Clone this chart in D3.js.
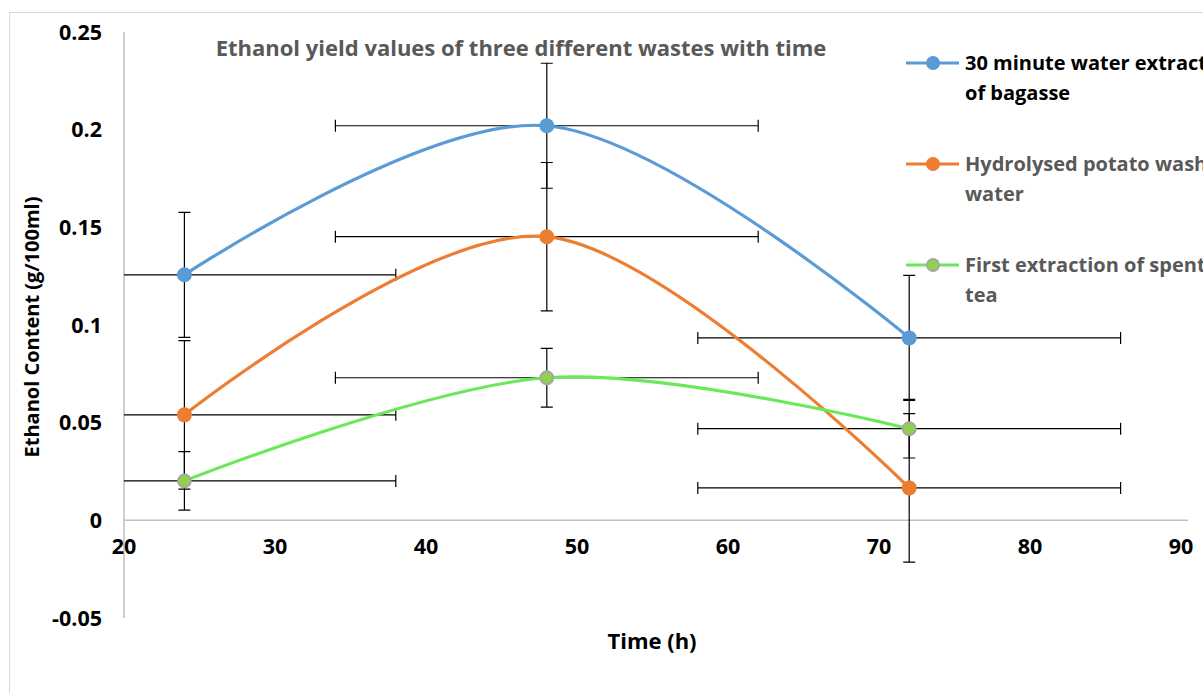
<!DOCTYPE html>
<html>
<head>
<meta charset="utf-8">
<script src="https://cdn.jsdelivr.net/npm/d3@7"></script>
<style>
  body { margin: 0; background: #fff; }
  svg { font-family: "Open Sans", sans-serif; font-weight: bold; }
</style>
</head>
<body>
<svg id="chart" width="1203" height="693"></svg>
<script>
var times = [24, 48, 72];
var bagasse = [0.1257, 0.202, 0.0934];
var potato = [0.054, 0.1452, 0.0166];
var tea = [0.0202, 0.073, 0.0469];
var yErrors = [0.032, 0.038, 0.015];
var xError = 14;
var seriesNames = [["30 minute water extract", "of bagasse"], ["Hydrolysed potato wash", "water"], ["First extraction of spent", "tea"]];
var xTicks = [20, 30, 40, 50, 60, 70, 80, 90];
var yTicks = [-0.05, 0, 0.05, 0.1, 0.15, 0.2, 0.25];

var svg = d3.select("#chart"),
    margin = {top: 32, right: 22, bottom: 75, left: 124},
    width = svg.attr("width") - margin.left - margin.right,
    height = svg.attr("height") - margin.top - margin.bottom;

var x = d3.scaleLinear().domain([20, 90]).range([0, width]),
    y = d3.scaleLinear().domain([-0.05, 0.25]).range([height, 0]);

var colors = ["#5B9BD5", "#ED7D31", "#6BE85A"],
    markerFill = ["#5B9BD5", "#ED7D31", "#92D050"],
    markerStroke = ["#5B9BD5", "#ED7D31", "#A5A5A5"];

var series = [bagasse, potato, tea].map(function(vals, i) {
    return {
        name: seriesNames[i],
        err: yErrors[i],
        values: vals.map(function(v, j) { return {t: times[j], v: v}; })
    };
});

// outer chart border
svg.append("rect")
    .attr("x", 9.5).attr("y", 12.5)
    .attr("width", 1250).attr("height", 750)
    .attr("fill", "none").attr("stroke", "#D9D9D9");

var g = svg.append("g")
    .attr("transform", "translate(" + margin.left + "," + margin.top + ")");

g.append("clipPath").attr("id", "plot-clip")
  .append("rect").attr("x", 0).attr("y", -10).attr("width", width + 10).attr("height", height + 20);

// axes
g.append("line")
    .attr("x1", 0).attr("x2", 0).attr("y1", 0).attr("y2", height)
    .attr("stroke", "#BFBFBF").attr("stroke-width", 1.5);
g.append("line")
    .attr("x1", 0).attr("x2", width + 7).attr("y1", y(0)).attr("y2", y(0))
    .attr("stroke", "#BFBFBF").attr("stroke-width", 1.5);

g.selectAll(".ytick")
    .data(yTicks)
  .enter().append("text")
    .attr("class", "ytick")
    .attr("x", -22)
    .attr("y", function(d) { return y(d); })
    .attr("dy", "0.35em")
    .attr("text-anchor", "end")
    .style("font-size", "21.5px")
    .text(function(d) { return String(+d.toFixed(2)); });

g.selectAll(".xtick")
    .data(xTicks)
  .enter().append("text")
    .attr("class", "xtick")
    .attr("x", function(d) { return x(d); })
    .attr("y", y(0) + 34)
    .attr("text-anchor", "middle")
    .style("font-size", "21.5px")
    .text(function(d) { return d; });

// axis titles
svg.append("text")
    .attr("x", 652).attr("y", 649)
    .attr("text-anchor", "middle")
    .style("font-size", "22px")
    .text("Time (h)");

svg.append("text")
    .attr("transform", "translate(39,327) rotate(-90)")
    .attr("text-anchor", "middle")
    .style("font-size", "20px")
    .text("Ethanol Content (g/100ml)");

svg.append("text")
    .attr("x", 521).attr("y", 56)
    .attr("text-anchor", "middle")
    .attr("fill", "#595959")
    .style("font-size", "22px")
    .text("Ethanol yield values of three different wastes with time");

// error bars
var bars = g.append("g").attr("clip-path", "url(#plot-clip)");
var cap = 6;
series.forEach(function(s) {
    s.values.forEach(function(d) {
        var cx = x(d.t), cy = y(d.v),
            x0 = x(d.t - xError), x1 = x(d.t + xError),
            y0 = y(d.v - s.err), y1 = y(d.v + s.err);
        var path = "M" + x0 + "," + cy + "H" + x1 +
            "M" + x0 + "," + (cy - cap) + "V" + (cy + cap) +
            "M" + x1 + "," + (cy - cap) + "V" + (cy + cap) +
            "M" + cx + "," + y0 + "V" + y1 +
            "M" + (cx - cap) + "," + y0 + "H" + (cx + cap) +
            "M" + (cx - cap) + "," + y1 + "H" + (cx + cap);
        bars.append("path")
            .attr("d", path)
            .attr("fill", "none")
            .attr("stroke", "#000")
            .attr("stroke-width", 1.2);
    });
});

// smoothed lines
var line = d3.line()
    .curve(d3.curveCardinal.tension(0))
    .x(function(d) { return x(d.t); })
    .y(function(d) { return y(d.v); });

series.forEach(function(s, i) {
    g.append("path")
        .datum(s.values)
        .attr("fill", "none")
        .attr("stroke", colors[i])
        .attr("stroke-width", 3.2)
        .attr("d", line);
});

series.forEach(function(s, i) {
    g.selectAll(".dot" + i)
        .data(s.values)
      .enter().append("circle")
        .attr("cx", function(d) { return x(d.t); })
        .attr("cy", function(d) { return y(d.v); })
        .attr("r", i == 2 ? 6.5 : 7.5)
        .attr("fill", markerFill[i])
        .attr("stroke", markerStroke[i])
        .attr("stroke-width", i == 2 ? 1.8 : 0);
});

// legend
var legend = svg.append("g").attr("transform", "translate(906,63)");
series.forEach(function(s, i) {
    var lg = legend.append("g").attr("transform", "translate(0," + (i * 101) + ")");
    lg.append("line")
        .attr("x1", 0).attr("x2", 53)
        .attr("stroke", colors[i]).attr("stroke-width", 3.2);
    lg.append("circle")
        .attr("cx", 27).attr("r", i == 2 ? 6 : 7)
        .attr("fill", markerFill[i])
        .attr("stroke", markerStroke[i])
        .attr("stroke-width", i == 2 ? 1.8 : 0);
    lg.selectAll("text")
        .data(s.name)
      .enter().append("text")
        .attr("x", 59)
        .attr("y", function(d, j) { return j * 30; })
        .attr("dy", "0.35em")
        .attr("fill", i == 0 ? "#000" : "#595959")
        .style("font-size", "20px")
        .text(function(d) { return d; });
});
</script>
</body>
</html>
